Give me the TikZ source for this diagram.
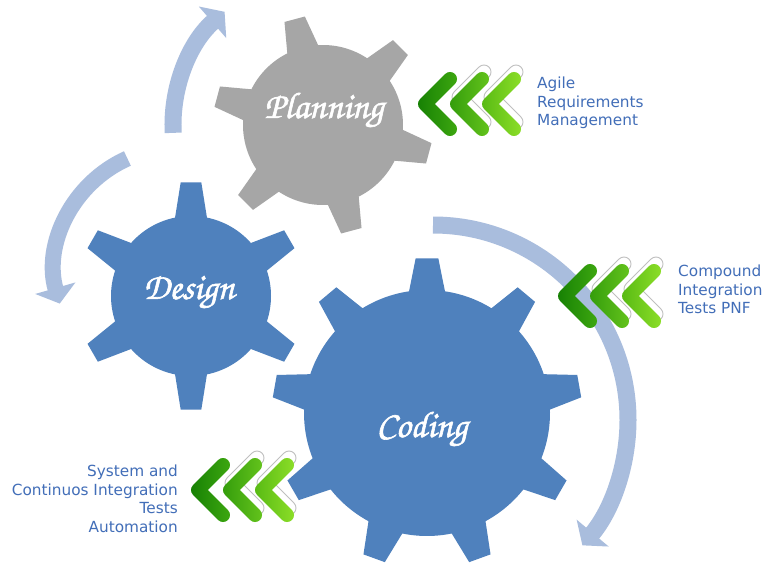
\documentclass[tikz,border=0pt]{standalone}
\usepackage{fontspec}
\setmainfont{DejaVu Sans}
\newfontfamily\gearfont[FakeBold=1.6]{texgyrechorus-mediumitalic.otf}
\usetikzlibrary{arrows.meta}
\definecolor{gearblue}{RGB}{79,129,189}
\definecolor{geargray}{RGB}{166,166,166}
\definecolor{arrowblue}{RGB}{169,189,221}
\definecolor{txtblue}{RGB}{66,110,184}
\definecolor{chevAl}{RGB}{22,128,4}
\definecolor{chevAr}{RGB}{62,168,16}
\definecolor{chevBl}{RGB}{52,156,12}
\definecolor{chevBr}{RGB}{100,196,28}
\definecolor{chevCl}{RGB}{88,186,20}
\definecolor{chevCr}{RGB}{140,222,40}
\newcommand\drawgear[9]{% #1 style, #2 cx, #3 cy, #4 N, #5 r, #6 R, #7 base half angle, #8 tip half angle, #9 phase
  \fill[#1, shift={(#2,-#3)}] ({#9-#7}:#5)
   \foreach \i in {1,...,#4}{
     -- ({#9+(\i-1)*360/#4-#8}:#6) -- ({#9+(\i-1)*360/#4+#8}:#6) -- ({#9+(\i-1)*360/#4+#7}:#5)
     arc[start angle={#9+(\i-1)*360/#4+#7}, end angle={#9+\i*360/#4-#7}, radius=#5]
   } -- cycle;}
% chevron outline: stroke of width 2w around tip (0,0) with arms of length a at 45 degrees
\newcommand\chevpath{(135:\cw) -- ++(\ca,\ca) arc[start angle=135, end angle=-45, radius=\cw]
   -- ({1.41421*\cw},0) -- ({\ca+0.70711*\cw},{-\ca+0.70711*\cw}) arc[start angle=45, end angle=-135, radius=\cw]
   -- (225:\cw) arc[start angle=225, end angle=135, radius=\cw] -- cycle}
\def\cw{7}
\def\ca{25}
\newcommand\chevshadow[2]{\draw[chevshadow, shift={({#1+2},{-#2+7})}] \chevpath;}
\newcommand\chevfill[4]{\shade[left color=#3, right color=#4, shift={(#1,-#2)}] \chevpath;}
\newcommand\chevgroup[2]{%
  \chevshadow{#1+32}{#2}
  \chevshadow{#1+64}{#2}
  \chevfill{#1}{#2}{chevAl}{chevAr}
  \chevfill{#1+32}{#2}{chevBl}{chevBr}
  \chevfill{#1+64}{#2}{chevCl}{chevCr}}
\begin{document}
\begin{tikzpicture}[x=1pt, y=1pt,
  chevshadow/.style={draw=black!25, fill=white, line width=0.9pt},
  cyclearrow/.style={draw=arrowblue, line width=17pt, -{Triangle[width=41pt,length=16pt]}},
  gearlabel/.style={text=white, inner sep=0pt, font=\gearfont\fontsize{37}{37}\selectfont},
  infotext/.style={text=txtblue, inner sep=0pt, font=\fontsize{15.3}{18.5}\selectfont}]
\useasboundingbox (0,0) rectangle (765,-569);
\fill[white] (0,0) rectangle (765,-569);
% cycle arrows
\coordinate (a1s) at (173.2,-132.85);
\coordinate (a2s) at (127.4,-158.5);
\coordinate (a3s) at (433,-225);
\draw[cyclearrow] (a1s) arc[start angle=183, end angle=131, radius=150];
\draw[cyclearrow, line width=16pt] (a2s) arc[start angle=114, end angle=196, radius=122];
\draw[cyclearrow] (a3s) arc[start angle=90, end angle=-40, radius=195];
% gears
\drawgear{geargray}{323}{125}{6}{80}{110}{11.5}{5.5}{45}
\drawgear{gearblue}{191}{296}{6}{80}{114}{11.5}{5.2}{90}
\drawgear{gearblue}{427}{413}{9}{123}{155}{8.4}{4.2}{90}
\node[gearlabel] (planning) at (324,-110) {Planning};
\node[gearlabel] (design) at (189,-292) {Design};
\node[gearlabel] (coding) at (422,-429) {Coding};
% chevrons
\chevgroup{425}{104}
\chevgroup{565}{296}
\chevgroup{198}{490}
% texts
\node[infotext, anchor=north west, align=left] (agile) at (537,-77) {Agile\\Requirements\\Management};
\node[infotext, anchor=north west, align=left] (compound) at (678,-265) {Compound\\Integration\\Tests PNF};
\node[infotext, anchor=north east, align=right] (system) at (178,-465) {System and\\Continuos Integration\\Tests\\Automation};
\end{tikzpicture}
\end{document}
